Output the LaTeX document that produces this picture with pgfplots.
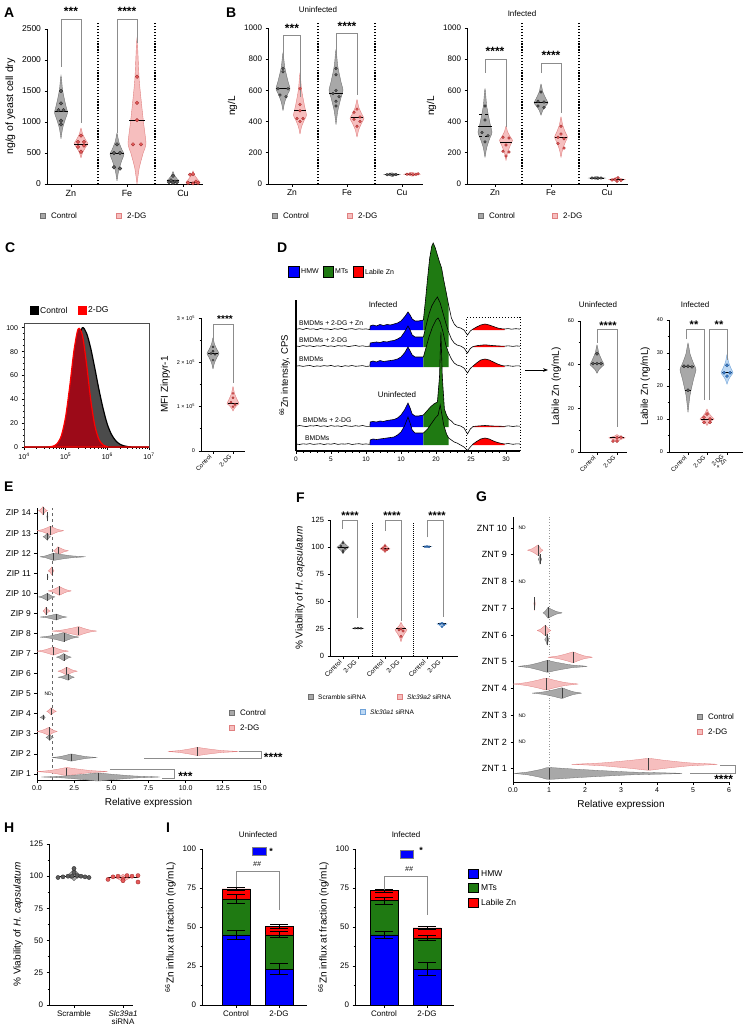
\documentclass[border=0pt]{standalone}
\usepackage{fontspec}
\setmainfont{Liberation Sans}
\usepackage{pgfplots}
\usepackage{pgfplotstable}
\pgfplotsset{compat=1.18}
\usetikzlibrary{arrows.meta}

\newcommand{\fs}[1]{\fontsize{#1}{#1}\selectfont}

\definecolor{cg}{HTML}{A8A8A8}
\definecolor{cgd}{HTML}{707070}
\definecolor{cgdot}{HTML}{5C5C5C}
\definecolor{pk}{HTML}{F6BEBE}
\definecolor{pkd}{HTML}{E08080}
\definecolor{pkdot}{HTML}{E45A5A}
\definecolor{pkline}{HTML}{9E2A2A}
\definecolor{lb}{HTML}{BCD8F4}
\definecolor{lbd}{HTML}{6FA2D8}
\definecolor{lbdot}{HTML}{3E82CF}
\definecolor{lbline}{HTML}{1F4F8A}
\definecolor{hmw}{HTML}{0000FF}
\definecolor{mts}{HTML}{1F7A12}
\definecolor{lab}{HTML}{FF0000}
\definecolor{hctrl}{HTML}{4B4B4B}
\definecolor{hdg}{HTML}{9C0A18}

\pgfplotsset{
  prism/.style={scale only axis, clip=false, anchor=south west,
    axis x line*=bottom, axis y line*=left,
    axis line style={line width=0.9pt, black},
    tick style={black, line width=0.8pt},
    tick align=outside, major tick length=2.5pt, minor tick length=1.5pt,
    tick label style={font=\fs{8}},
    label style={font=\fs{10}},
    /pgf/number format/assume math mode=true,
    /pgf/number format/1000 sep={}},
  dotc/.style={only marks, mark=*, mark size=1.4pt, mark options={fill=cgdot, draw=black!85, line width=0.3pt}},
  dotp/.style={only marks, mark=*, mark size=1.4pt, mark options={fill=pkdot, draw=pkline, line width=0.3pt}},
  dotb/.style={only marks, mark=*, mark size=1.4pt, mark options={fill=lbdot, draw=lbline, line width=0.3pt}},
  mmed/.style={black, line width=1pt},
  mbrk/.style={black!45, line width=0.5pt},
  msep/.style={black, line width=1.3pt, dash pattern=on 1.3pt off 1.6pt},
  msep2/.style={black, line width=0.8pt, dash pattern=on 0.8pt off 1.2pt},
}
\tikzset{stars/.style={font=\fs{12}\bfseries}, lbl/.style={anchor=west, inner sep=0pt}}

% vertical violin: centre x, half width, low, widest, high, fill, edge
\newcommand{\vvio}[7]{%
\pgfmathsetmacro\vxL{#1-#2}\pgfmathsetmacro\vxR{#1+#2}%
\pgfmathsetmacro\vxl{#1-0.7*#2}\pgfmathsetmacro\vxr{#1+0.7*#2}%
\pgfmathsetmacro\vxs{#1-0.25*#2}\pgfmathsetmacro\vxt{#1+0.25*#2}%
\pgfmathsetmacro\vya{#3+0.4*(#4-#3)}\pgfmathsetmacro\vyb{#3+0.78*(#4-#3)}%
\pgfmathsetmacro\vyc{#4+0.22*(#5-#4)}\pgfmathsetmacro\vyd{#4+0.6*(#5-#4)}%
\addplot[fill=#6, draw=#7, line width=0.4pt, smooth, tension=0.4] coordinates {(#1,#3) (\vxt,\vya) (\vxr,\vyb) (\vxR,#4) (\vxr,\vyc) (\vxt,\vyd) (#1,#5) (\vxs,\vyd) (\vxl,\vyc) (\vxL,#4) (\vxl,\vyb) (\vxs,\vya) (#1,#3)};%
}
% horizontal violin: centre y, half height, low, widest, high, fill, edge
\newcommand{\hvio}[7]{%
\pgfmathsetmacro\vxL{#1-#2}\pgfmathsetmacro\vxR{#1+#2}%
\pgfmathsetmacro\vxl{#1-0.7*#2}\pgfmathsetmacro\vxr{#1+0.7*#2}%
\pgfmathsetmacro\vxs{#1-0.25*#2}\pgfmathsetmacro\vxt{#1+0.25*#2}%
\pgfmathsetmacro\vya{#3+0.4*(#4-#3)}\pgfmathsetmacro\vyb{#3+0.78*(#4-#3)}%
\pgfmathsetmacro\vyc{#4+0.22*(#5-#4)}\pgfmathsetmacro\vyd{#4+0.6*(#5-#4)}%
\addplot[fill=#6, draw=#7, line width=0.3pt, smooth, tension=0.4] coordinates {(#3,#1) (\vya,\vxt) (\vyb,\vxr) (#4,\vxR) (\vyc,\vxr) (\vyd,\vxt) (#5,#1) (\vyd,\vxs) (\vyc,\vxl) (#4,\vxL) (\vyb,\vxl) (\vya,\vxs) (#3,#1)};%
\addplot[black!75, line width=0.5pt] coordinates {(#4,\vxL) (#4,\vxR)};%
}
% error bar: x, y, error
\newcommand{\ebar}[3]{%
\pgfmathsetmacro\eL{#1-9}\pgfmathsetmacro\eR{#1+9}\pgfmathsetmacro\eT{#2+#3}\pgfmathsetmacro\eB{#2-#3}%
\addplot[black, line width=0.8pt] coordinates {(\eL,\eT) (\eR,\eT)};%
\addplot[black, line width=0.8pt] coordinates {(#1,\eB) (#1,\eT)};%
\addplot[black, line width=0.8pt] coordinates {(\eL,\eB) (\eR,\eB)};%
}
% chromatogram trace fills: table, baseline
\newcommand{\tracefill}[2]{%
\addplot[fill=hmw, draw=none, restrict x to domain=10.6:18.2] table[x=x, y expr=\thisrow{y}+#2] {#1} -- (axis cs:18.2,#2) -- (axis cs:10.6,#2) -- cycle;%
\addplot[fill=mts, draw=none, restrict x to domain=18.2:21.8] table[x=x, y expr=\thisrow{y}+#2] {#1} -- (axis cs:21.8,#2) -- (axis cs:18.2,#2) -- cycle;%
\addplot[fill=lab, draw=none, restrict x to domain=25.3:29.8] table[x=x, y expr=\thisrow{y}+#2] {#1} -- (axis cs:29.8,#2) -- (axis cs:25.3,#2) -- cycle;%
}
\newcommand{\traceline}[2]{\addplot[black, line width=0.6pt] table[x=x, y expr=\thisrow{y}+#2] {#1};}

\pgfplotstableread{
x y
0 0.6
0.5 1.4
1 0.5
1.5 1.6
2 0.8
2.5 1.2
3 0.3
3.5 1.5
4 0.9
4.5 1.1
5 0.4
5.5 1.3
6 0.7
6.5 1.6
7 0.5
7.5 1.0
8 1.4
8.5 0.6
9 1.2
9.5 0.8
10 1.1
10.55 0.5
10.6 4
11 5
11.5 4
12 5.5
12.5 4.5
13 5.5
13.5 5
14 6
14.5 7
15 9
15.5 13
16 18
16.3 15
16.6 11
17 9
17.5 9
18.2 10
18.5 30
18.8 52
19.1 72
19.4 84
19.6 87
19.9 82
20.2 75
20.5 68
20.8 62
21.1 50
21.5 36
21.8 25
22.2 12
22.6 6
23 3
23.5 2
24 0
24.5 -5
24.9 -1
25.3 1
25.8 3
26.4 5
27 6
27.6 5
28.2 3.5
28.8 2
29.4 1.2
29.8 1
30.3 1.4
30.8 0.8
31.4 1.3
32 0.9
}\trA
\pgfplotstableread{
x y
0 1.1
0.5 0.5
1 1.5
1.5 0.7
2 1.3
2.5 0.4
3 1.2
3.5 0.8
4 1.6
4.5 0.6
5 1.1
5.5 0.5
6 1.4
6.5 0.9
7 1.3
7.5 0.4
8 1.0
8.5 1.5
9 0.7
9.5 1.2
10 0.6
10.55 0.8
10.6 4
11 4.5
11.5 5
12 4.5
12.5 5.5
13 5
13.5 6
14 6.5
14.5 8
15 10
15.5 15
16 21
16.3 17
16.6 12
17 10
17.5 10
18.2 10
18.6 22
19 33
19.4 41
19.8 46
20.2 50
20.6 44
21 34
21.4 24
21.8 15
22.2 8
22.6 4
23 2
23.5 1
24 -1
24.5 -6
24.9 -1.5
25.3 0.5
26 1.5
27 2.2
28 1.5
29 1
29.8 0.8
30.3 1.2
31 0.6
31.5 1.1
32 0.8
}\trB
\pgfplotstableread{
x y
0 0.9
0.5 1.3
1 0.6
1.5 1.2
2 1.5
2.5 0.5
3 1.1
3.5 0.7
4 1.4
4.5 0.9
5 1.6
5.5 0.6
6 1.2
6.5 0.4
7 1.3
7.5 0.8
8 1.5
8.5 0.7
9 1.0
9.5 1.4
10 0.6
10.55 0.9
10.6 5
11 6
11.5 5
12 6.5
12.5 5.5
13 6
13.5 6.5
14 7
14.5 8
15 10
15.5 14
16 20
16.3 16
16.6 12
17 10
17.5 10
18.2 10
18.6 20
19 30
19.5 40
20 47
20.3 49
20.6 45
21 35
21.4 22
21.8 14
22.2 8
22.6 4
23 2
23.5 1
24 -1
24.5 -6
24.9 -1.5
25.3 1
25.8 4
26.4 7
27 8
27.6 7
28.2 5
28.8 3
29.4 1.5
29.8 1
30.3 1.3
31 0.7
31.5 1.2
32 1
}\trC
\pgfplotstableread{
x y
0 0.7
0.5 1.5
1 0.9
1.5 0.4
2 1.3
2.5 1.0
3 1.6
3.5 0.6
4 1.2
4.5 0.5
5 1.4
5.5 0.8
6 1.1
6.5 0.5
7 1.5
7.5 0.9
8 0.6
8.5 1.3
9 0.8
9.5 1.5
10 0.7
10.55 0.6
10.6 5
11 5.5
11.5 5
12 6
12.5 5.5
13 6.5
13.5 7
14 7.5
14.5 9
15 12
15.5 17
16 24
16.3 19
16.6 13
17 11
17.5 11
18.2 12
18.7 16
19.2 20
19.7 23
20.2 25
20.5 50
20.7 95
20.9 50
21.2 18
21.5 12
21.8 8
22.2 6
22.6 3
23 2
23.5 1
24 -1
24.5 -7
24.9 -2
25.3 0.5
26 1
27 1.5
28 1
29 0.8
29.8 0.6
30.3 1.2
31 0.5
31.5 1.0
32 0.8
}\trD
\pgfplotstableread{
x y
0 1.0
0.5 0.5
1 1.2
1.5 0.8
2 1.4
2.5 0.6
3 1.0
3.5 1.3
4 0.5
4.5 1.2
5 0.8
5.5 1.5
6 0.6
6.5 1.1
7 0.9
7.5 1.4
8 0.5
8.5 1.0
9 1.3
9.5 0.7
10 1.1
10.55 0.6
10.6 5
11 6
11.5 5.5
12 6
12.5 6.5
13 7
13.5 7.5
14 8
14.5 10
15 13
15.5 19
16 28
16.3 22
16.6 15
17 12
17.5 12
18.2 12
18.8 16
19.4 22
19.9 27
20.3 30
20.6 40
20.8 32
21.1 20
21.5 11
21.8 7
22.2 5
22.6 3
23 2
23.5 0
24 -2
24.5 -5.5
24.9 -2
25.3 1
25.8 3.5
26.4 6
27 7
27.6 6
28.2 4
28.8 2.5
29.4 1.5
29.8 1
30.3 1.5
31 0.7
31.5 1.2
32 1
}\trE

\begin{document}
\begin{tikzpicture}
\path[use as bounding box] (0,0) rectangle (747pt,-1035pt);

% ================= A =================
\begin{axis}[prism, at={(47pt,-184pt)}, width=156pt, height=155pt,
  xmin=0, xmax=156, ymin=0, ymax=2500, ytick={0,500,1000,1500,2000,2500},
  y tick label style={font=\fs{8.5}},
  xtick={24,80,136}, xticklabels={Zn,Fe,Cu}, x tick label style={font=\fs{9}},
  ylabel={ng/g of yeast cell dry}, ylabel style={font=\fs{10.5}}]
\addplot[msep] coordinates {(51,0) (51,2600)};
\addplot[msep] coordinates {(108,0) (108,2600)};
\vvio{14}{6.5}{730}{1150}{1750}{cg}{cgd}
\vvio{34}{7}{420}{650}{900}{pk}{pkd}
\vvio{70}{7}{50}{480}{820}{cg}{cgd}
\vvio{90}{9}{0}{650}{2350}{pk}{pkd}
\vvio{126}{6}{0}{50}{200}{cg}{cgd}
\vvio{146}{7}{0}{30}{210}{pk}{pkd}
\addplot[dotc, mark size=1.8pt] coordinates {(14,1500) (14,1300) (11.5,1190) (16.5,1190) (14,1020) (14,960)};
\addplot[dotp, mark size=1.8pt] coordinates {(34,780) (31,680) (37,680) (31,600) (37,620) (34,520)};
\addplot[dotc, mark size=1.8pt] coordinates {(70,640) (67,500) (73,500) (67,270) (73,250)};
\addplot[dotp, mark size=1.8pt] coordinates {(90,1730) (90,1310) (90,1030) (86,640) (94,640)};
\addplot[dotc, mark size=1.8pt] coordinates {(126,130) (124,60) (128,40) (122,30) (130,30) (126,20)};
\addplot[dotp, mark size=1.8pt] coordinates {(146,160) (143,150) (149,40) (141,20) (151,20) (146,10)};
\addplot[mmed] coordinates {(7.5,1170) (20.5,1170)};
\addplot[mmed] coordinates {(27,640) (41,640)};
\addplot[mmed] coordinates {(63,490) (77,490)};
\addplot[mmed] coordinates {(82,1030) (98,1030)};
\addplot[mmed] coordinates {(120,50) (132,50)};
\addplot[mmed] coordinates {(139,30) (153,30)};
\addplot[mbrk] coordinates {(14,1890) (14,2660) (34,2660) (34,980)};
\addplot[mbrk] coordinates {(70,820) (70,2660) (90,2660) (90,2270)};
\node[stars] at (axis cs:24,2780) {***};
\node[stars] at (axis cs:80,2780) {****};
\end{axis}

% ================= B uninfected =================
\begin{axis}[prism, at={(268pt,-184pt)}, width=155pt, height=156pt,
  xmin=0, xmax=155, ymin=0, ymax=1000, ytick={0,200,400,600,800,1000},
  xtick={24,79,134}, xticklabels={Zn,Fe,Cu}, x tick label style={font=\fs{8.5}},
  ylabel={ng/L}]
\addplot[msep] coordinates {(50,0) (50,1030)};
\addplot[msep] coordinates {(107,0) (107,1030)};
\vvio{15}{7}{470}{610}{840}{cg}{cgd}
\vvio{32}{6.5}{320}{440}{710}{pk}{pkd}
\vvio{68}{7}{380}{600}{860}{cg}{cgd}
\vvio{89}{7}{300}{420}{540}{pk}{pkd}
\vvio{124}{8}{48}{60}{72}{cg}{cgd}
\vvio{144}{8}{50}{63}{76}{pk}{pkd}
\addplot[dotc] coordinates {(15,740) (15,720) (10,610) (20,610) (12,570) (18,560)};
\addplot[dotp] coordinates {(32,610) (32,510) (32,470) (29,420) (35,420) (32,400)};
\addplot[dotc] coordinates {(68,740) (68,700) (68,600) (65,580) (71,560) (68,530) (68,500)};
\addplot[dotp] coordinates {(89,480) (86,460) (92,430) (86,415) (92,400) (89,370)};
\addplot[dotc] coordinates {(119,60) (122,62) (125,58) (128,61)};
\addplot[dotp] coordinates {(139,62) (142,64) (145,60) (148,63) (150,65)};
\addplot[mmed] coordinates {(8,610) (22,610)};
\addplot[mmed] coordinates {(26,470) (38,470)};
\addplot[mmed] coordinates {(61,580) (75,580)};
\addplot[mmed] coordinates {(83,425) (95,425)};
\addplot[mmed] coordinates {(117,60) (131,60)};
\addplot[mmed] coordinates {(137,63) (151,63)};
\addplot[mbrk] coordinates {(15,795) (15,955) (32,955) (32,560)};
\addplot[mbrk] coordinates {(68,805) (68,965) (89,965) (89,570)};
\node[stars] at (axis cs:24,1000) {***};
\node[stars] at (axis cs:79,1012) {****};
\end{axis}

% ================= B infected =================
\begin{axis}[prism, at={(467pt,-184pt)}, width=161pt, height=156pt,
  xmin=0, xmax=161, ymin=0, ymax=1000, ytick={0,200,400,600,800,1000},
  xtick={28,84,140}, xticklabels={Zn,Fe,Cu}, x tick label style={font=\fs{8.5}},
  ylabel={ng/L}]
\addplot[msep] coordinates {(55,0) (55,1030)};
\addplot[msep] coordinates {(112,0) (112,1030)};
\vvio{18}{7}{170}{330}{610}{cg}{cgd}
\vvio{39}{6.5}{150}{280}{370}{pk}{pkd}
\vvio{74}{7}{440}{520}{640}{cg}{cgd}
\vvio{94}{6.5}{170}{300}{430}{pk}{pkd}
\vvio{130}{8}{30}{38}{48}{cg}{cgd}
\vvio{150}{8}{15}{28}{45}{pk}{pkd}
\addplot[dotc] coordinates {(18,500) (18,410) (15,330) (21,310) (18,270)};
\addplot[dotp] coordinates {(36,300) (42,295) (39,250) (36,210) (42,205) (39,180)};
\addplot[dotc] coordinates {(74,590) (71,530) (77,525) (71,500) (77,490)};
\addplot[dotp] coordinates {(94,370) (94,320) (91,300) (97,290) (91,260) (97,230)};
\addplot[dotc] coordinates {(125,38) (128,39) (131,37) (134,38)};
\addplot[dotp] coordinates {(145,25) (148,30) (151,40) (154,22) (150,18)};
\addplot[mmed] coordinates {(11,370) (25,370)};
\addplot[black, dashed, line width=0.6pt] coordinates {(12,445) (24,445)};
\addplot[black, dashed, line width=0.6pt] coordinates {(12,305) (24,305)};
\addplot[mmed] coordinates {(33,265) (45,265)};
\addplot[mmed] coordinates {(67,525) (81,525)};
\addplot[mmed] coordinates {(88,295) (100,295)};
\addplot[mmed] coordinates {(123,38) (137,38)};
\addplot[mmed] coordinates {(143,28) (157,28)};
\addplot[mbrk] coordinates {(18,713) (18,800) (39,800) (39,367)};
\addplot[mbrk] coordinates {(74,713) (74,774) (94,774) (94,453)};
\node[stars] at (axis cs:28,848) {****};
\node[stars] at (axis cs:84,822) {****};
\end{axis}

% ================= C histogram =================
\begin{axis}[scale only axis, anchor=south west, at={(24pt,-447pt)}, width=125pt, height=124pt,
  xmin=4, xmax=7, ymin=0, ymax=104,
  xtick={4,5,6,7}, xticklabels={10\textsuperscript{4},10\textsuperscript{5},10\textsuperscript{6},10\textsuperscript{7}},
  minor xtick={4.301,4.477,4.602,4.699,4.778,4.845,4.903,4.954,5.301,5.477,5.602,5.699,5.778,5.845,5.903,5.954,6.301,6.477,6.602,6.699,6.778,6.845,6.903,6.954},
  ytick={0,20,40,60,80,100}, minor y tick num=3, xtick pos=left, ytick pos=left,
  tick align=outside, major tick length=2.5pt, minor tick length=1.5pt,
  tick label style={font=\fs{7}}, axis line style={line width=0.6pt, black!70},
  tick style={black, line width=0.6pt}, /pgf/number format/assume math mode=true]
\addplot[fill=hctrl, draw=black, line width=1.2pt, smooth] coordinates {(4,0) (4.5,0) (4.6,0.03) (4.7,0.2) (4.8,1.1) (4.9,4.4) (5.0,13.5) (5.1,32) (5.2,61) (5.3,88) (5.4,100) (5.5,95.5) (5.6,83) (5.7,66) (5.8,48) (5.9,32) (6.0,19) (6.1,10.5) (6.2,5.3) (6.3,2.4) (6.4,1.0) (6.5,0.3) (6.6,0) (7,0)} \closedcycle;
\addplot[fill=hdg, draw=red, line width=1.2pt, smooth] coordinates {(4,0) (4.5,0) (4.6,0.1) (4.7,0.7) (4.8,3) (4.9,9.9) (5.0,25.6) (5.1,51.6) (5.2,81) (5.3,99) (5.4,94) (5.5,70) (5.6,40) (5.7,18) (5.8,6.3) (5.9,1.7) (6.0,0.4) (6.1,0) (7,0)} \closedcycle;
\end{axis}

% ================= C violin =================
\begin{axis}[prism, at={(201pt,-451pt)}, width=44pt, height=133pt, xmin=0, xmax=44, ymin=0, ymax=3,
  ytick={0,1,2,3}, yticklabels={0,{1 × 10\textsuperscript{5}},{2 × 10\textsuperscript{5}},{3 × 10\textsuperscript{5}}},
  minor ytick={0.5,1.5,2.5}, y tick label style={font=\fs{5.5}},
  xtick={12,32}, xticklabels={Control,2-DG}, x tick label style={font=\fs{6}, rotate=45, anchor=east},
  ylabel={MFI Zinpyr-1}]
\vvio{12}{6}{1.85}{2.2}{2.55}{cg}{cgd}
\vvio{32}{6}{0.9}{1.07}{1.45}{pk}{pkd}
\addplot[dotc, mark size=1.1pt] coordinates {(12,2.35) (12,2.25) (10,2.2) (14,2.18) (12,2.05)};
\addplot[dotp, mark size=1.1pt] coordinates {(32,1.3) (32,1.2) (30,1.1) (34,1.05) (32,1.0)};
\addplot[mmed] coordinates {(7,2.2) (17,2.2)};
\addplot[mmed] coordinates {(27,1.07) (37,1.07)};
\addplot[mbrk] coordinates {(12,2.5) (12,2.86) (32,2.86) (32,1.53)};
\node[stars, font=\fs{10}\bfseries] at (axis cs:24,2.97) {****};
\end{axis}

% ================= D chromatogram =================
\begin{axis}[prism, at={(296pt,-451pt)}, width=224pt, height=151pt,
  xmin=0, xmax=32, ymin=0, ymax=151, ytick=\empty,
  xtick={0,5,10,15,20,25,30}, xticklabels={0,5,10,10,20,25,30}, minor x tick num=4,
  axis line style={line width=1.2pt}, tick label style={font=\fs{6.5}},
  ylabel={\textsuperscript{66}Zn intensity, CPS}, ylabel style={font=\fs{9.5}}]
\tracefill{\trA}{121}
\tracefill{\trB}{104}
\tracefill{\trC}{84}
\tracefill{\trD}{24}
\tracefill{\trE}{6}
\traceline{\trA}{121}
\traceline{\trB}{104}
\traceline{\trC}{84}
\traceline{\trD}{24}
\traceline{\trE}{6}
\draw[line width=0.9pt, dotted] (axis cs:24.4,1) rectangle (axis cs:32,134);
\end{axis}

% ================= D labile uninfected =================
\begin{axis}[prism, at={(580pt,-452pt)}, width=47pt, height=131pt, xmin=0, xmax=47, ymin=0, ymax=60,
  ytick={0,20,40,60}, minor ytick={10,30,50}, y tick label style={font=\fs{5.5}},
  xtick={17,37}, xticklabels={Control,2-DG}, x tick label style={font=\fs{6}, rotate=45, anchor=east},
  ylabel={Labile Zn (ng/mL)}, ylabel style={font=\fs{10}}]
\vvio{17}{7}{36}{40}{49}{cg}{cgd}
\vvio{37}{8}{4.5}{6.5}{8}{pk}{pkd}
\addplot[dotc, mark size=1.6pt] coordinates {(17,45) (13,40.5) (17,40.5) (21,40.5)};
\addplot[dotp, mark size=1.6pt] coordinates {(33,5) (37,6.5) (41,6.8) (37,5)};
\addplot[mmed] coordinates {(11,40.5) (23,40.5)};
\addplot[mmed] coordinates {(30,6.5) (44,6.5)};
\addplot[mbrk] coordinates {(17,50) (17,56.3) (37,56.3) (37,11.5)};
\node[stars, font=\fs{11}\bfseries] at (axis cs:28,58) {****};
\end{axis}

% ================= D labile infected =================
\begin{axis}[prism, at={(669pt,-452pt)}, width=74pt, height=132pt, xmin=0, xmax=74, ymin=0, ymax=40,
  ytick={0,10,20,30,40}, minor ytick={5,15,25,35}, y tick label style={font=\fs{5.5}},
  xtick={19,38,58}, xticklabels={Control,2-DG,{2-DG\\[-1pt]+ Zn}}, x tick label style={font=\fs{6}, rotate=45, anchor=east, align=center},
  ylabel={Labile Zn (ng/mL)}, ylabel style={font=\fs{10}}]
\vvio{19}{8}{12}{25}{33}{cg}{cgd}
\vvio{38}{7}{8}{10}{13}{pk}{pkd}
\vvio{58}{6}{20.5}{24}{29.5}{lb}{lbd}
\addplot[dotc, mark size=1.6pt] coordinates {(15,26) (19,26) (23,25.8) (19,18.7)};
\addplot[dotp, mark size=1.6pt] coordinates {(38,11.5) (35,10.5) (41,10) (35,9) (41,9)};
\addplot[dotb, mark size=1.6pt] coordinates {(58,26.3) (55,24) (61,24) (58,23)};
\addplot[mmed] coordinates {(13,26) (25,26)};
\addplot[mmed] coordinates {(16,18.7) (22,18.7)};
\addplot[mmed] coordinates {(32,10) (44,10)};
\addplot[mmed] coordinates {(53,24.2) (63,24.2)};
\addplot[mbrk] coordinates {(17,34.2) (17,37.3) (35,37.3) (35,15.7)};
\addplot[mbrk] coordinates {(40,15.7) (40,37.3) (58,37.3) (58,27.8)};
\node[stars, font=\fs{11}\bfseries] at (axis cs:25,38.5) {**};
\node[stars, font=\fs{11}\bfseries] at (axis cs:50,38.5) {**};
\end{axis}

% ================= E =================
\begin{axis}[prism, at={(37pt,-780pt)}, width=223pt, height=272pt,
  xmin=0, xmax=15, ymin=0.7, ymax=14.25,
  xtick={0,2.5,5,7.5,10,12.5,15}, xticklabels={0.0,2.5,5.0,7.5,10.0,12.5,15.0}, x tick label style={font=\fs{7}},
  ytick={1,2,3,4,5,6,7,8,9,10,11,12,13,14},
  yticklabels={ZIP 1,ZIP 2,ZIP 3,ZIP 4,ZIP 5,ZIP 6,ZIP 7,ZIP 8,ZIP 9,ZIP 10,ZIP 11,ZIP 12,ZIP 13,ZIP 14},
  y tick label style={font=\fs{8.5}},
  xlabel={Relative expression}, xlabel style={font=\fs{10}}]
\addplot[black!60, dashed, line width=0.5pt] coordinates {(1,0.7) (1,14.25)};
\hvio{14.12}{0.2}{0.1}{0.4}{0.7}{pk}{pkd}
\hvio{13.82}{0.22}{0.66}{0.7}{0.74}{cg}{cgd}
\hvio{13.12}{0.22}{0.0}{0.9}{1.78}{pk}{pkd}
\hvio{12.82}{0.18}{0.4}{0.7}{0.9}{cg}{cgd}
\hvio{12.12}{0.2}{1.1}{1.4}{2.1}{pk}{pkd}
\hvio{11.82}{0.18}{0.2}{1.1}{3.2}{cg}{cgd}
\hvio{11.12}{0.2}{0.75}{1.0}{1.15}{pk}{pkd}
\hvio{10.82}{0.15}{0.7}{0.72}{0.74}{cg}{cgd}
\hvio{10.12}{0.22}{0.75}{1.5}{2.3}{pk}{pkd}
\hvio{9.82}{0.18}{0.1}{0.7}{1.2}{cg}{cgd}
\hvio{9.12}{0.18}{0.4}{0.6}{0.9}{pk}{pkd}
\hvio{8.82}{0.15}{0.2}{1.3}{2.0}{cg}{cgd}
\hvio{8.12}{0.22}{1.0}{2.8}{4.0}{pk}{pkd}
\hvio{7.82}{0.22}{0.2}{1.8}{2.8}{cg}{cgd}
\hvio{7.12}{0.2}{0.0}{1.1}{2.1}{pk}{pkd}
\hvio{6.82}{0.18}{1.3}{1.8}{2.3}{cg}{cgd}
\hvio{6.12}{0.2}{1.4}{2.0}{2.7}{pk}{pkd}
\hvio{5.82}{0.15}{1.4}{2.1}{2.5}{cg}{cgd}
\hvio{4.12}{0.18}{0.65}{0.95}{1.3}{pk}{pkd}
\hvio{3.82}{0.12}{0.2}{0.45}{0.55}{cg}{cgd}
\hvio{3.12}{0.2}{0.0}{0.8}{1.35}{pk}{pkd}
\hvio{2.82}{0.15}{0.6}{0.85}{1.1}{cg}{cgd}
\hvio{2.12}{0.2}{8.8}{10.8}{13.5}{pk}{pkd}
\hvio{1.82}{0.18}{1.0}{2.3}{4.0}{cg}{cgd}
\hvio{1.12}{0.2}{0.0}{2.0}{4.7}{pk}{pkd}
\hvio{0.85}{0.2}{0.3}{4.1}{8.2}{cg}{cgd}
\node[font=\fs{5}] at (axis cs:0.75,5) {ND};
\addplot[mbrk] coordinates {(13.6,2.15) (15.07,2.15) (15.07,1.8) (7.2,1.8)};
\addplot[mbrk] coordinates {(4.9,1.25) (9.26,1.25) (9.26,0.8) (8.4,0.8)};
\node[stars, anchor=west, inner sep=0pt] at (axis cs:15.25,1.85) {****};
\node[stars, anchor=west, inner sep=0pt] at (axis cs:9.5,0.88) {***};
\end{axis}

% ================= F =================
\begin{axis}[prism, at={(330pt,-656pt)}, width=128pt, height=136pt,
  xmin=0, xmax=128, ymin=0, ymax=125, ytick={0,25,50,75,100,125}, y tick label style={font=\fs{7.5}},
  xtick={13,28,55,71,97,112}, xticklabels={Control,2-DG,Control,2-DG,Control,2-DG},
  x tick label style={font=\fs{6.5}, rotate=45, anchor=east},
  ylabel={\% Viability of \textit{H. capsulatum}}]
\addplot[msep2] coordinates {(42,0) (42,122)};
\addplot[msep2] coordinates {(83,0) (83,122)};
\vvio{13}{6}{94}{100}{106}{cg}{cgd}
\vvio{28}{6}{24.8}{25.5}{26.2}{cg}{cgd}
\vvio{55}{5}{95}{98.5}{103}{pk}{pkd}
\vvio{71}{6}{13}{24}{31}{pk}{pkd}
\vvio{97}{5}{100}{100.5}{101}{lb}{lbd}
\vvio{112}{5}{26}{29.5}{31}{lb}{lbd}
\addplot[dotc, mark size=1pt] coordinates {(13,104) (11,101) (15,99) (13,97) (13,95.5) (25,25.5) (28,25.6) (31,25.4)};
\addplot[dotp, mark size=1.3pt] coordinates {(55,101) (53,99) (57,98) (55,97) (71,25) (69,24) (73,23) (71,18)};
\addplot[dotb, mark size=1.1pt] coordinates {(95,100.5) (97,100.6) (99,100.4) (112,30) (110,29.5) (114,29) (112,27)};
\addplot[mmed] coordinates {(8,100) (18,100)};
\addplot[mmed] coordinates {(23,25.5) (33,25.5)};
\addplot[mmed] coordinates {(51,98.5) (59,98.5)};
\addplot[mmed] coordinates {(66,25) (76,25)};
\addplot[mmed] coordinates {(93,100.5) (101,100.5)};
\addplot[mmed] coordinates {(108,29.5) (116,29.5)};
\addplot[mbrk] coordinates {(12,117) (12,124.4) (27,124.4) (27,35)};
\addplot[mbrk] coordinates {(55,115) (55,124.4) (71,124.4) (71,32)};
\addplot[mbrk] coordinates {(97,109) (97,124.4) (113,124.4) (113,36)};
\node[stars, font=\fs{11}\bfseries] at (axis cs:20,129) {****};
\node[stars, font=\fs{11}\bfseries] at (axis cs:62,129) {****};
\node[stars, font=\fs{11}\bfseries] at (axis cs:107,129) {****};
\end{axis}

% ================= G =================
\begin{axis}[prism, at={(513pt,-782pt)}, width=216pt, height=265pt,
  xmin=0, xmax=6, ymin=0.51, ymax=10.41,
  xtick={0,1,2,3,4,5,6}, xticklabels={0.0,1,2,3,4,5,6}, x tick label style={font=\fs{7}},
  ytick={1,2,3,4,5,6,7,8,9,10},
  yticklabels={ZNT 1,ZNT 2,ZNT 3,ZNT 4,ZNT 5,ZNT 6,ZNT 7,ZNT 8,ZNT 9,ZNT 10},
  y tick label style={font=\fs{9}},
  xlabel={Relative expression}, xlabel style={font=\fs{10}}]
\addplot[black!40, dotted, line width=0.7pt] coordinates {(1,0.51) (1,10.41)};
\hvio{9.17}{0.2}{0.4}{0.7}{0.83}{pk}{pkd}
\hvio{8.83}{0.18}{0.7}{0.75}{0.8}{cg}{cgd}
\hvio{7.17}{0.25}{0.58}{0.6}{0.62}{pk}{pkd}
\hvio{6.83}{0.2}{0.83}{0.97}{1.36}{cg}{cgd}
\hvio{6.17}{0.2}{0.67}{0.9}{1.05}{pk}{pkd}
\hvio{5.83}{0.2}{0.88}{0.95}{1.0}{cg}{cgd}
\hvio{5.17}{0.2}{0.97}{1.67}{2.2}{pk}{pkd}
\hvio{4.83}{0.22}{0.15}{0.95}{2.05}{cg}{cgd}
\hvio{4.17}{0.22}{0.0}{0.92}{1.8}{pk}{pkd}
\hvio{3.83}{0.2}{0.53}{1.36}{1.9}{cg}{cgd}
\hvio{1.17}{0.22}{1.63}{3.77}{5.66}{pk}{pkd}
\hvio{0.83}{0.22}{0.03}{1.0}{4.7}{cg}{cgd}
\node[font=\fs{5}, anchor=west, inner sep=0pt] at (axis cs:0.15,10) {ND};
\node[font=\fs{5}, anchor=west, inner sep=0pt] at (axis cs:0.15,8) {ND};
\node[font=\fs{5}, anchor=west, inner sep=0pt] at (axis cs:0.15,3) {ND};
\node[font=\fs{5}, anchor=west, inner sep=0pt] at (axis cs:0.15,2) {ND};
\addplot[mbrk] coordinates {(4.93,0.83) (6.17,0.83) (6.17,1.12) (5.75,1.12)};
\node[stars] at (axis cs:5.85,0.6) {****};
\end{axis}

% ================= H =================
\begin{axis}[prism, at={(49pt,-1005pt)}, width=84pt, height=161pt,
  xmin=0, xmax=84, ymin=0, ymax=125, ytick={0,25,50,75,100,125}, minor y tick num=1,
  y tick label style={font=\fs{8}},
  xtick={25,74}, xticklabels={Scramble,{\textit{Slc39a1}\\siRNA}}, x tick label style={font=\fs{8}, align=center},
  ylabel={\% Viability of \textit{H. capsulatum}}]
\vvio{25}{8}{96.5}{100}{106.5}{cg}{cgd}
\vvio{74}{8}{95}{99}{101.5}{pk}{pkd}
\addplot[mmed, line width=1.2pt] coordinates {(10,100) (40,100)};
\addplot[mmed, line width=1.2pt] coordinates {(59,99) (89,99)};
\addplot[dotc, mark size=2.1pt] coordinates {(9,99) (14,99.5) (19,100) (23,100) (28,100.5) (32,100) (36,99.5) (40,99) (25,106) (25,103)};
\addplot[dotp, mark size=2.1pt] coordinates {(59,97.5) (64,99.5) (69,100) (74,98) (78,100.5) (83,100) (89,100.5) (89,95.5) (74,96.5)};
\end{axis}

% ================= I uninfected =================
\begin{axis}[prism, at={(202pt,-1005pt)}, width=105pt, height=156pt,
  xmin=0, xmax=105, ymin=0, ymax=100, ytick={0,25,50,75,100}, minor y tick num=1,
  y tick label style={font=\fs{8}}, xtick={34,77}, xticklabels={Control,2-DG}, x tick label style={font=\fs{8}},
  ylabel={\textsuperscript{66}Zn influx at fraction (ng/mL)}]
\addplot[ybar, bar width=28pt, bar shift=0pt, fill=lab, draw=black, line width=0.5pt] coordinates {(34,74.5) (77,50.6)};
\addplot[ybar, bar width=28pt, bar shift=0pt, fill=mts, draw=black, line width=0.5pt] coordinates {(34,68) (77,45)};
\addplot[ybar, bar width=28pt, bar shift=0pt, fill=hmw, draw=black, line width=0.5pt] coordinates {(34,45) (77,23)};
\ebar{34}{45}{2.9}
\ebar{34}{68}{3.1}
\ebar{34}{74.5}{0.9}
\ebar{77}{23}{3.4}
\ebar{77}{45}{1.9}
\ebar{77}{50.6}{1.2}
\addplot[mbrk] coordinates {(34,75.6) (34,85.9) (77,85.9) (77,61)};
\filldraw[fill=hmw, draw=black!50, line width=0.3pt] (axis cs:50,96.3) rectangle (axis cs:64,101.3);
\node[font=\fs{9}\bfseries] at (axis cs:69,98.3) {*};
\node[font=\fs{7}\itshape] at (axis cs:55,90.4) {\#\#};
\end{axis}

% ================= I infected =================
\begin{axis}[prism, at={(355pt,-1005pt)}, width=99pt, height=156pt,
  xmin=0, xmax=99, ymin=0, ymax=100, ytick={0,25,50,75,100}, minor y tick num=1,
  y tick label style={font=\fs{8}}, xtick={29,72}, xticklabels={Control,2-DG}, x tick label style={font=\fs{8}},
  ylabel={\textsuperscript{66}Zn influx at fraction (ng/mL)}]
\addplot[ybar, bar width=28pt, bar shift=0pt, fill=lab, draw=black, line width=0.5pt] coordinates {(29,73.3) (72,49.5)};
\addplot[ybar, bar width=28pt, bar shift=0pt, fill=mts, draw=black, line width=0.5pt] coordinates {(29,67) (72,43)};
\addplot[ybar, bar width=28pt, bar shift=0pt, fill=hmw, draw=black, line width=0.5pt] coordinates {(29,45) (72,23)};
\ebar{29}{45}{2.4}
\ebar{29}{67}{2.3}
\ebar{29}{73.3}{0.8}
\ebar{72}{23}{4.0}
\ebar{72}{43}{1.6}
\ebar{72}{49.5}{1.1}
\addplot[mbrk] coordinates {(29,73.7) (29,82.7) (72,82.7) (72,57.7)};
\filldraw[fill=hmw, draw=black!50, line width=0.3pt] (axis cs:45,94.2) rectangle (axis cs:58,99.4);
\node[font=\fs{9}\bfseries] at (axis cs:66,99.3) {*};
\node[font=\fs{7}\itshape] at (axis cs:54,87.2) {\#\#};
\end{axis}

% ================= page-level text =================
\foreach \L/\x/\y in {A/4/13, B/226/13, C/5/248, D/277/248, E/4/487, F/296/498, G/476/497, H/4/828, I/166/828}
  \node[anchor=west, inner sep=0pt, font=\fs{14}\bfseries] at (\x pt,-\y pt) {\L};

\node[font=\fs{8}] at (318pt,-10pt) {Uninfected};
\node[font=\fs{8}] at (522pt,-14pt) {Infected};

\filldraw[fill=cg, draw=cgd, line width=0.4pt] (40pt,-213.5pt) rectangle (45pt,-218.5pt);
\node[lbl, font=\fs{8}] at (51pt,-216pt) {Control};
\filldraw[fill=pk, draw=pkd, line width=0.4pt] (116.5pt,-213.5pt) rectangle (121.5pt,-218.5pt);
\node[lbl, font=\fs{8}] at (127pt,-216pt) {2-DG};
\filldraw[fill=cg, draw=cgd, line width=0.4pt] (272.5pt,-213.5pt) rectangle (277.5pt,-218.5pt);
\node[lbl, font=\fs{8}] at (283pt,-216pt) {Control};
\filldraw[fill=pk, draw=pkd, line width=0.4pt] (347.5pt,-213.5pt) rectangle (352.5pt,-218.5pt);
\node[lbl, font=\fs{8}] at (358pt,-216pt) {2-DG};
\filldraw[fill=cg, draw=cgd, line width=0.4pt] (478pt,-213.5pt) rectangle (483pt,-218.5pt);
\node[lbl, font=\fs{8}] at (489pt,-216pt) {Control};
\filldraw[fill=pk, draw=pkd, line width=0.4pt] (552.5pt,-213.5pt) rectangle (557.5pt,-218.5pt);
\node[lbl, font=\fs{8}] at (563pt,-216pt) {2-DG};

\fill[black] (30pt,-306pt) rectangle (38.5pt,-314.5pt);
\node[lbl, font=\fs{8.5}] at (40pt,-310pt) {Control};
\fill[red] (78pt,-306pt) rectangle (86.5pt,-314.5pt);
\node[lbl, font=\fs{8.5}] at (88pt,-310pt) {2-DG};

\filldraw[fill=hmw, draw=black, line width=0.4pt] (288pt,-266pt) rectangle (299pt,-277pt);
\node[lbl, font=\fs{7}] at (301pt,-271.5pt) {HMW};
\filldraw[fill=mts, draw=black, line width=0.4pt] (323pt,-266pt) rectangle (333pt,-277pt);
\node[lbl, font=\fs{7}] at (335pt,-271.5pt) {MTs};
\filldraw[fill=lab, draw=black, line width=0.4pt] (353pt,-266pt) rectangle (363pt,-277pt);
\node[lbl, font=\fs{7}] at (365pt,-271.5pt) {Labile Zn};
\node[font=\fs{8}] at (383pt,-305pt) {Infected};
\node[font=\fs{8}] at (397pt,-395pt) {Uninfected};
\node[lbl, font=\fs{6.8}] at (299pt,-323pt) {BMDMs + 2-DG + Zn};
\node[lbl, font=\fs{6.8}] at (299pt,-340pt) {BMDMs + 2-DG};
\node[lbl, font=\fs{6.8}] at (299pt,-359pt) {BMDMs};
\node[lbl, font=\fs{6.8}] at (303pt,-420pt) {BMDMs + 2-DG};
\node[lbl, font=\fs{6.8}] at (305pt,-438pt) {BMDMs};
\draw[-{Stealth[length=5pt]}, line width=0.9pt] (525pt,-370pt) -- (548pt,-370pt);
\node[font=\fs{8}] at (598pt,-305pt) {Uninfected};
\node[font=\fs{8}] at (695pt,-305pt) {Infected};

\filldraw[fill=cg, draw=cgd, line width=0.4pt] (229.5pt,-710.5pt) rectangle (234.5pt,-715.5pt);
\node[lbl, font=\fs{8}] at (240pt,-713pt) {Control};
\filldraw[fill=pk, draw=pkd, line width=0.4pt] (229.5pt,-725.5pt) rectangle (234.5pt,-730.5pt);
\node[lbl, font=\fs{8}] at (240pt,-728pt) {2-DG};

\filldraw[fill=cg, draw=cgd, line width=0.4pt] (308pt,-694.5pt) rectangle (313pt,-699.5pt);
\node[lbl, font=\fs{6.5}] at (318pt,-697pt) {Scramble siRNA};
\filldraw[fill=pk, draw=pkd, line width=0.4pt] (397pt,-694.5pt) rectangle (402pt,-699.5pt);
\node[lbl, font=\fs{6.5}] at (407pt,-697pt) {\textit{Slc39a2} siRNA};
\filldraw[fill=lb, draw=lbd, line width=0.4pt] (360pt,-709.5pt) rectangle (365pt,-714.5pt);
\node[lbl, font=\fs{6.5}] at (370pt,-712pt) {\textit{Slc30a1} siRNA};

\filldraw[fill=cg, draw=cgd, line width=0.4pt] (697.5pt,-714.5pt) rectangle (702.5pt,-719.5pt);
\node[lbl, font=\fs{8}] at (708pt,-717pt) {Control};
\filldraw[fill=pk, draw=pkd, line width=0.4pt] (697.5pt,-729.5pt) rectangle (702.5pt,-734.5pt);
\node[lbl, font=\fs{8}] at (708pt,-732pt) {2-DG};

\node[font=\fs{8}] at (258pt,-835pt) {Uninfected};
\node[font=\fs{8}] at (406pt,-835pt) {Infected};
\filldraw[fill=hmw, draw=black, line width=0.4pt] (468pt,-869pt) rectangle (478pt,-878pt);
\node[lbl, font=\fs{8.5}] at (481pt,-873.5pt) {HMW};
\filldraw[fill=mts, draw=black, line width=0.4pt] (468pt,-883pt) rectangle (478pt,-892pt);
\node[lbl, font=\fs{8.5}] at (481pt,-887.5pt) {MTs};
\filldraw[fill=lab, draw=black, line width=0.4pt] (468pt,-898pt) rectangle (478pt,-907pt);
\node[lbl, font=\fs{8.5}] at (481pt,-902.5pt) {Labile Zn};

\end{tikzpicture}
\end{document}
